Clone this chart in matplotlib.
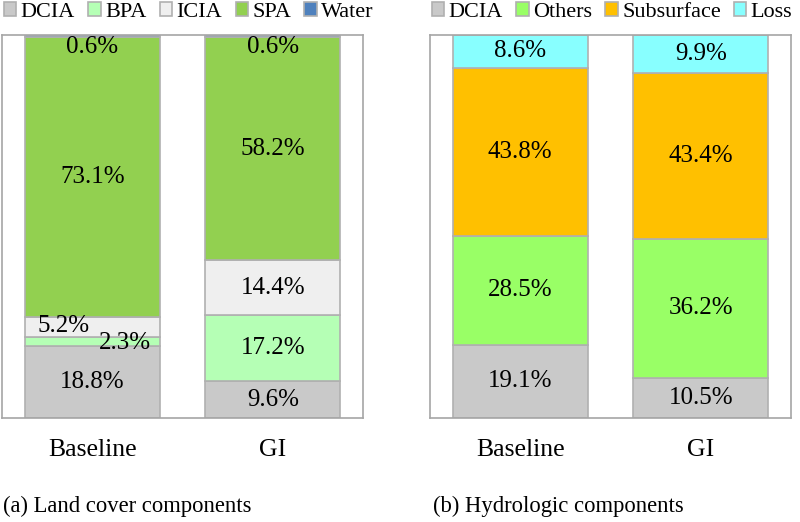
import numpy as np
import matplotlib.pyplot as plt

plt.rcParams['font.family'] = ['Liberation Serif', 'DejaVu Serif']

scenarios = ["Baseline", "GI"]

# (a) land cover, bottom to top
land_names = ["DCIA", "BPA", "ICIA", "SPA", "Water"]
land_vals = {
    "DCIA": [18.8, 9.6],
    "BPA": [2.3, 17.2],
    "ICIA": [5.2, 14.4],
    "SPA": [73.1, 58.2],
    "Water": [0.6, 0.6],
}
land_colors = ["#c9c9c9", "#b5ffb5", "#efefef", "#92d050", "#4f81bd"]

# (b) hydrologic, bottom to top
hyd_names = ["DCIA", "Others", "Subsurface", "Loss"]
hyd_vals = {
    "DCIA": [19.1, 10.5],
    "Others": [28.5, 36.2],
    "Subsurface": [43.8, 43.4],
    "Loss": [8.6, 9.9],
}
hyd_colors = ["#c9c9c9", "#99ff66", "#ffc000", "#88ffff"]

W, H = 800, 522
fig = plt.figure(figsize=(W / 100, H / 100), dpi=100)


def px_axes(x0, x1, ytop, ybot):
    return fig.add_axes([x0 / W, 1 - ybot / H, (x1 - x0) / W, (ybot - ytop) / H])


def stacked(ax, names, vals, colors):
    x = np.arange(len(scenarios))
    bottom = np.zeros(len(scenarios))
    for name, col in zip(names, colors):
        v = np.array(vals[name])
        ax.bar(x, v, 0.75, bottom=bottom, color=col, edgecolor="#b0b0b0",
               linewidth=1.2, label=name, zorder=2)
        bottom = bottom + v
    ax.set_xlim(-0.5, 1.5)
    ax.set_ylim(0, 100)
    ax.set_yticks([])
    ax.set_xticks(x)
    ax.set_xticklabels(scenarios, fontsize=18.5)
    ax.tick_params(axis="x", length=0, pad=15)
    for s in ax.spines.values():
        s.set_color("#a6a6a6")
        s.set_linewidth(1.2)


def add_labels(ax, names, vals, offsets=None, top_name=None):
    offsets = offsets or {}
    for i in range(len(scenarios)):
        b = 0.0
        for name in names:
            v = vals[name][i]
            dx, dy = offsets.get((name, i), (0, 0))
            y = b + v / 2
            if name == top_name:
                y = b - 2.6
            ax.text(i + dx, y + dy, f"{v}%", ha="center", va="center",
                    fontsize=18, zorder=3)
            b += v


ax1 = px_axes(2, 363, 35, 418)
stacked(ax1, land_names, land_vals, land_colors)
add_labels(ax1, land_names, land_vals,
           offsets={("ICIA", 0): (-0.16, 0.2), ("BPA", 0): (0.18, -0.4)},
           top_name="Water")

ax2 = px_axes(430, 791, 35, 418)
stacked(ax2, hyd_names, hyd_vals, hyd_colors)
add_labels(ax2, hyd_names, hyd_vals)

leg_kw = dict(frameon=False, fontsize=16, handlelength=0.55, handleheight=0.55,
              handletextpad=0.2, columnspacing=0.6, borderaxespad=0,
              borderpad=0, loc="center left")
h1, l1 = ax1.get_legend_handles_labels()
fig.legend(h1, l1, ncol=5, bbox_to_anchor=(4 / W, 1 - 12 / H), **leg_kw)
h2, l2 = ax2.get_legend_handles_labels()
fig.legend(h2, l2, ncol=4, bbox_to_anchor=(432 / W, 1 - 12 / H), **leg_kw)

fig.text(3 / W, 1 - 506 / H, "(a) Land cover components", fontsize=16.3,
         va="center")
fig.text(433 / W, 1 - 506 / H, "(b) Hydrologic components", fontsize=16.3,
         va="center")

fig.savefig("out.png", dpi=100)
